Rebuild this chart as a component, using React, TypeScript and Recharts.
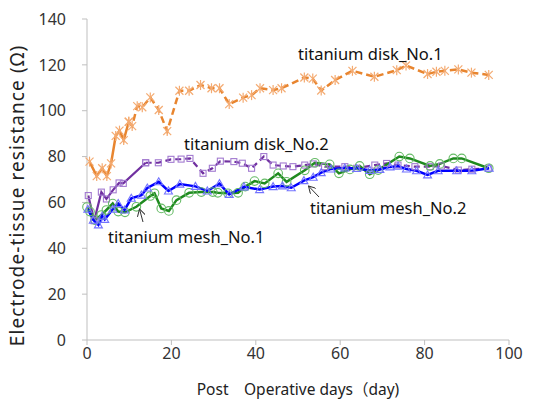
import { LineChart, Line, XAxis, YAxis } from "recharts";

// post-operative day / resistance (ohm) for each electrode
const DISK1_DAY = [0.6, 2.3, 3.6, 4.7, 5.7, 6.8, 7.7, 8.7, 9.9, 10.7, 11.9, 13.1, 15, 17, 19, 21.9, 24.2, 26.9, 29.5, 31.4, 33.7, 37, 39, 41, 44.1, 46.1, 51.5, 53.5, 55.5, 58.8, 62.9, 68.1, 73.4, 75.6, 80.7, 82.8, 84.8, 88, 91.1, 95.2];
const DISK1_OHM = [77.8, 71.5, 74.9, 71.5, 77, 89, 91.3, 87.2, 95.2, 93.3, 102, 101.5, 105.8, 100.3, 91.1, 108.7, 108.7, 111.2, 109.8, 109.8, 102.9, 105.7, 106.8, 109.8, 109, 109.8, 114.5, 114, 108.8, 113.4, 117.4, 114.8, 117.7, 119.7, 116, 117, 117.4, 118, 116.6, 115.6];

const DISK2_DAY = [0.3, 1.7, 3.4, 4.6, 6.2, 7.6, 8.6, 13.9, 16.9, 19.9, 22.3, 24.4, 27.5, 29.7, 31.6, 34.8, 36.8, 39, 41.9, 44.1, 46.5, 48.8, 51.6, 53.6, 56.3, 61.1, 63.9, 68.2, 71, 73.7, 77.7, 81.3, 84, 88, 91.2, 95.1];
const DISK2_OHM = [63, 52, 64.5, 61.5, 65.5, 68.5, 68.3, 77.3, 77.3, 78.8, 78.9, 79.2, 72.7, 74.9, 78, 77.8, 77.1, 74.9, 80, 76.3, 75.9, 75.6, 76.3, 76.8, 75.6, 75.6, 74.9, 76.3, 77, 76.3, 75.6, 75.6, 75.9, 74.1, 74.5, 74.9];

const MESH1_DAY = [0, 0.7, 1.9, 3.4, 4.6, 6.1, 7.4, 9, 11.7, 15, 16, 17.6, 19.4, 21.2, 24.2, 27.1, 29.8, 31, 33.4, 35.8, 37.5, 39.7, 42.1, 45.3, 47.3, 51.6, 54, 57.5, 59.7, 62.3, 64.6, 67, 69, 74, 76.5, 81.3, 83.6, 86.8, 88.8, 95.2];
const MESH1_OHM = [58, 56, 52.3, 54.5, 56.7, 59.5, 56, 55.7, 58.1, 62.8, 64, 57.4, 56.3, 61, 64.2, 64.5, 64.5, 64.2, 64, 64.2, 66.9, 69.3, 68.3, 72.7, 69, 74, 77.3, 76.6, 72.7, 74.4, 75.9, 72.3, 74.1, 80, 79.2, 75.9, 76.8, 79.2, 79.2, 74.9];

const MESH2_DAY = [0.2, 1.5, 2.7, 3.6, 4.2, 6.1, 7.4, 8.9, 10.5, 12.9, 14.3, 17, 19.3, 22, 25.7, 28.5, 31.4, 33.7, 37.2, 40.9, 44.1, 46.3, 48.4, 51.4, 53.6, 55.5, 57.8, 61.1, 63.9, 67, 69.4, 71.8, 73.7, 75.7, 78.1, 80.7, 83.2, 87.6, 91.2, 95.3];
const MESH2_OHM = [57, 52.3, 50.2, 54, 52.6, 57, 59.5, 56.7, 61.8, 63.2, 66.3, 69, 65, 68, 67, 65, 68.2, 63.5, 66.8, 65.6, 66.9, 67.2, 66.4, 69.5, 71, 73, 74.6, 75, 74.8, 74, 74.4, 75.5, 75.8, 74.6, 73.8, 72, 73.8, 73.8, 73.8, 74.9];

const X_TICKS = [0, 20, 40, 60, 80, 100];
const Y_TICKS = [0, 20, 40, 60, 80, 100, 120, 140];

const FONT = "'Noto Sans', 'Noto Sans CJK JP', sans-serif";

function rows(days: number[], vals: number[], from = 0, to = days.length) {
  return days.slice(from, to).map((d, i) => ({ day: d, ohm: vals[from + i] }));
}

const Star = (p: any) => {
  const { cx, cy } = p;
  if (cx == null || cy == null) return <g key={`st-${p.index}`} />;
  const r = 4;
  return (
    <g key={`st-${p.index}`} stroke="#f4ab72" strokeWidth={1.2}>
      <line x1={cx - r} y1={cy - r} x2={cx + r} y2={cy + r} />
      <line x1={cx - r} y1={cy + r} x2={cx + r} y2={cy - r} />
      <line x1={cx} y1={cy - r - 1} x2={cx} y2={cy + r + 1} />
    </g>
  );
};

const Square = (p: any) => {
  const { cx, cy } = p;
  if (cx == null || cy == null) return <g key={`sq-${p.index}`} />;
  return <rect key={`sq-${p.index}`} x={cx - 3} y={cy - 3} width={6} height={6} fill="none" stroke="#a27ad0" strokeWidth={1.1} />;
};

const Circle = (p: any) => {
  const { cx, cy } = p;
  if (cx == null || cy == null) return <g key={`ci-${p.index}`} />;
  return <circle key={`ci-${p.index}`} cx={cx} cy={cy} r={4.3} fill="none" stroke="#66bb66" strokeWidth={1.1} />;
};

const Tri = (p: any) => {
  const { cx, cy } = p;
  if (cx == null || cy == null) return <g key={`tr-${p.index}`} />;
  return (
    <polygon
      key={`tr-${p.index}`}
      points={`${cx},${cy - 4} ${cx - 4},${cy + 3} ${cx + 4},${cy + 3}`}
      fill="none"
      stroke="#7373ff"
      strokeWidth={1.1}
    />
  );
};

export default function App() {
  const disk1Solid = rows(DISK1_DAY, DISK1_OHM, 0, 9);
  const disk1Dash = rows(DISK1_DAY, DISK1_OHM, 8);
  const disk2Solid = rows(DISK2_DAY, DISK2_OHM, 0, 8);
  const disk2Dash = rows(DISK2_DAY, DISK2_OHM, 7);
  const mesh1 = rows(MESH1_DAY, MESH1_OHM);
  const mesh2 = rows(MESH2_DAY, MESH2_OHM);
  const tickStyle = { fontSize: 16, fill: "#333", fontFamily: FONT };

  return (
    <div style={{ position: "absolute", left: 0, top: 0, width: 543, height: 402, background: "#fff", fontFamily: FONT }}>
      <LineChart width={543} height={402} margin={{ top: 19, right: 34, bottom: 0, left: 27 }}>
        <XAxis
          dataKey="day"
          type="number"
          domain={[0, 100]}
          ticks={X_TICKS}
          allowDuplicatedCategory={false}
          stroke="#bfbfbf"
          tickSize={5}
          tickMargin={3}
          tick={tickStyle}
          height={62}
          label={{ value: "Post\u3000Operative days（day)", position: "insideBottom", offset: 7, fontSize: 15.5, fill: "#222", fontFamily: FONT }}
        />
        <YAxis
          type="number"
          domain={[0, 140]}
          ticks={Y_TICKS}
          stroke="#bfbfbf"
          tickSize={5}
          tickMargin={16}
          tick={tickStyle}
          width={60}
          label={{ value: "Electrode-tissue resistance (Ω)", angle: -90, position: "center", dx: -40, dy: 16, fontSize: 19, letterSpacing: 1.1, fill: "#222", fontFamily: FONT }}
        />
        <Line data={disk1Solid} dataKey="ohm" stroke="#e8852f" strokeWidth={2.5} dot={Star} activeDot={false} isAnimationActive={false} />
        <Line data={disk1Dash} dataKey="ohm" stroke="#e8852f" strokeWidth={2.5} strokeDasharray="7 4" dot={Star} activeDot={false} isAnimationActive={false} />
        <Line data={disk2Solid} dataKey="ohm" stroke="#7030a0" strokeWidth={2.2} dot={Square} activeDot={false} isAnimationActive={false} />
        <Line data={disk2Dash} dataKey="ohm" stroke="#7030a0" strokeWidth={2.2} strokeDasharray="6 4" dot={Square} activeDot={false} isAnimationActive={false} />
        <Line data={mesh1} dataKey="ohm" stroke="#1f8a1f" strokeWidth={2.5} dot={Circle} activeDot={false} isAnimationActive={false} />
        <Line data={mesh2} dataKey="ohm" stroke="#0000ff" strokeWidth={2.5} dot={Tri} activeDot={false} isAnimationActive={false} />
      </LineChart>
      <svg width={543} height={402} style={{ position: "absolute", left: 0, top: 0, pointerEvents: "none" }}>
        <defs>
          <marker id="arr" markerWidth="8" markerHeight="8" refX="7" refY="4" orient="auto">
            <path d="M0,0 L7,4 L0,8" fill="none" stroke="#333" strokeWidth={1} />
          </marker>
        </defs>
        <g fontFamily={FONT} fontSize={16.5} fill="#111" dominantBaseline="central">
          <text x={298} y={53}>titanium disk_No.1</text>
          <text x={184} y={143}>titanium disk_No.2</text>
          <text x={108} y={236}>titanium mesh_No.1</text>
          <text x={310} y={207}>titanium mesh_No.2</text>
        </g>
        <line x1={143} y1={222} x2={139.5} y2={209} stroke="#333" strokeWidth={1} markerEnd="url(#arr)" />
        <line x1={319} y1={197} x2={308.5} y2={186} stroke="#333" strokeWidth={1} markerEnd="url(#arr)" />
      </svg>
    </div>
  );
}
